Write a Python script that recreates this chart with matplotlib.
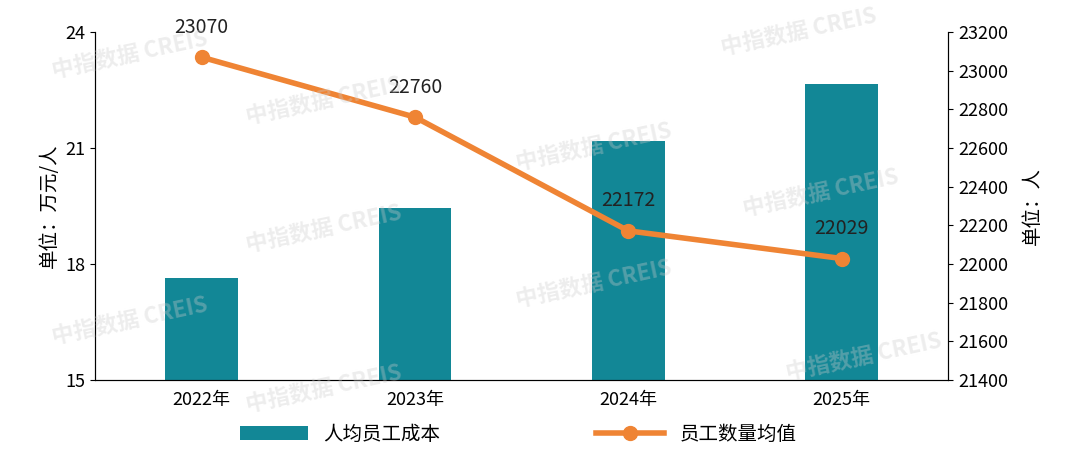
import matplotlib
matplotlib.use("Agg")
import matplotlib.pyplot as plt

plt.rcParams['font.family'] = ['Noto Sans CJK SC', 'DejaVu Sans']

years = ['2022年', '2023年', '2024年', '2025年']
cost = [17.64, 19.45, 21.18, 22.65]
staff = [23070, 22760, 22172, 22029]

fig = plt.figure(figsize=(10.8, 4.58), dpi=100)
ax = fig.add_axes([0.088, 0.17, 0.79, 0.76])
x = range(len(years))
b = ax.bar(x, cost, width=0.34, color='#128796', label='人均员工成本')
ax.set_ylim(15, 24)
ax.set_yticks([15, 18, 21, 24])
ax.set_xlim(-0.5, 3.5)
ax.set_xticks(list(x))
ax.set_xticklabels(years, fontsize=13)
ax.set_ylabel('单位：万元/人', fontsize=14)
ax.spines['top'].set_visible(False)
for s in ['left', 'bottom', 'right']:
    ax.spines[s].set_color('#333333')
ax.tick_params(axis='y', labelsize=13, direction='out')
ax.tick_params(axis='x', length=0, pad=8)

ax2 = ax.twinx()
l, = ax2.plot(list(x), staff, color='#ef8434', lw=4, marker='o', ms=10, label='员工数量均值')
ax2.set_ylim(21400, 23200)
ax2.set_yticks(range(21400, 23201, 200))
ax2.tick_params(axis='y', labelsize=13)
ax2.spines['top'].set_visible(False)
ax2.set_ylabel('单位：人', fontsize=14, rotation=90, labelpad=10)
for xi, v in zip(x, staff):
    ax2.annotate(str(v), (xi, v), xytext=(0, 14), textcoords='offset points',
                 ha='center', va='bottom', fontsize=14, color='#222222')

fig.legend([b, l], ['人均员工成本', '员工数量均值'], loc='lower center',
           bbox_to_anchor=(0.48, -0.01), ncol=2, frameon=False, fontsize=14,
           columnspacing=8, handlelength=3.5)

for (fx, fy) in [(0.12, 0.88), (0.3, 0.78), (0.55, 0.68), (0.76, 0.58), (0.12, 0.3),
                 (0.3, 0.15), (0.55, 0.38), (0.8, 0.22), (0.3, 0.5), (0.74, 0.93)]:
    fig.text(fx, fy, '中指数据 CREIS', fontsize=16, color='#cccccc', alpha=0.35,
             rotation=12, ha='center', va='center', fontweight='bold')

fig.savefig('out.png', dpi=100)
